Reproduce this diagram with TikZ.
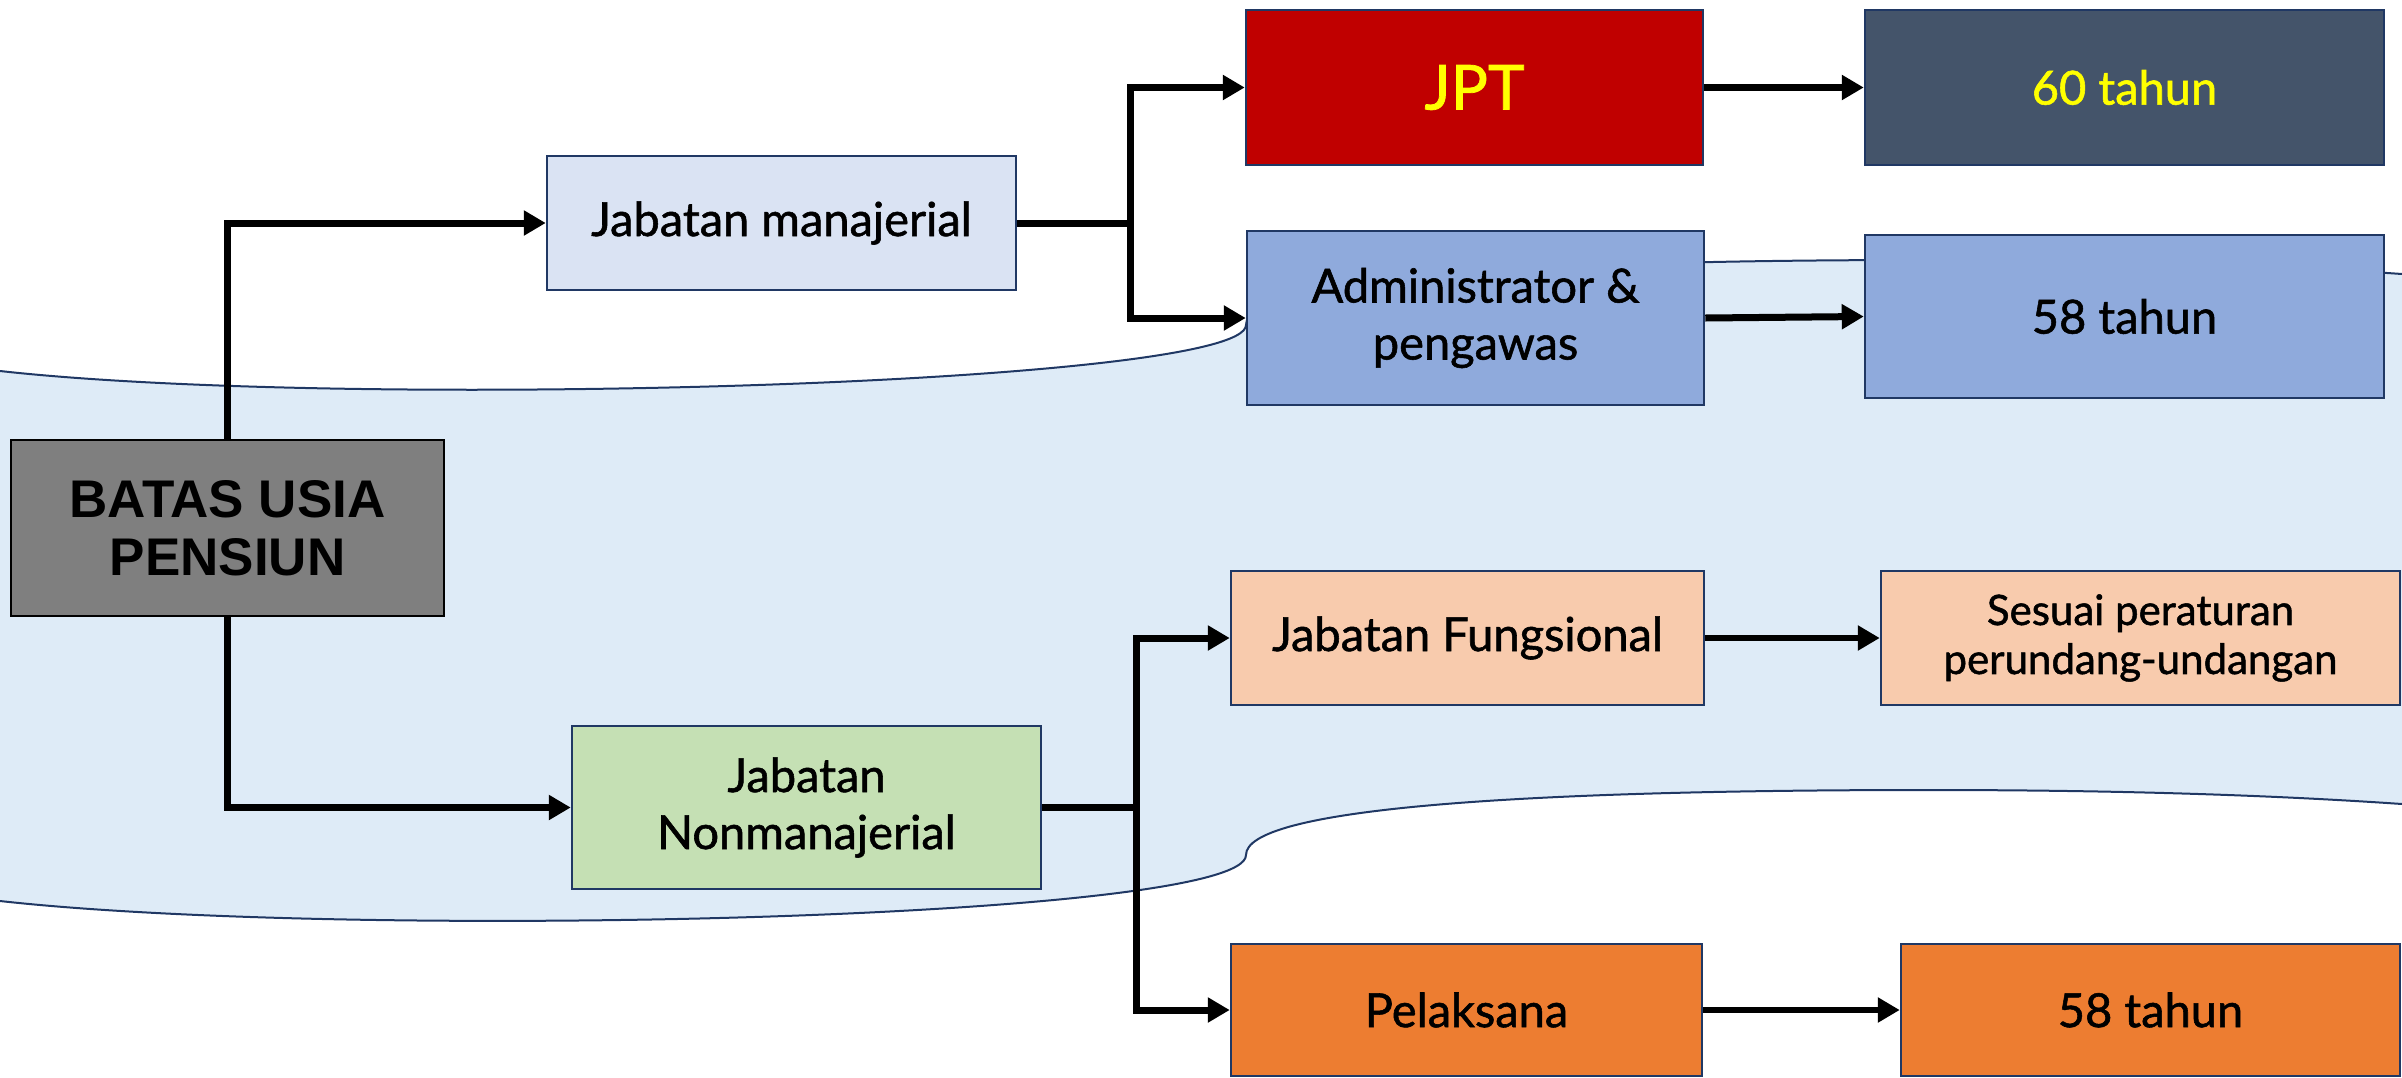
\documentclass[tikz,border=0pt]{standalone}
\usepackage{fontspec}
\setmainfont{Lato}[FakeBold=1.2]
\newfontfamily\arialf{Liberation Sans}
\usetikzlibrary{arrows.meta}
\definecolor{navy}{HTML}{203864}
\definecolor{wave}{HTML}{DEEBF7}
\definecolor{jmfill}{HTML}{DAE3F3}
\definecolor{jptfill}{HTML}{C00000}
\definecolor{slate}{HTML}{44546A}
\definecolor{admfill}{HTML}{8FAADC}
\definecolor{peach}{HTML}{F8CBAD}
\definecolor{orng}{HTML}{ED7D31}
\definecolor{green}{HTML}{C5E0B4}
\definecolor{grayb}{HTML}{7F7F7F}
\definecolor{yel}{HTML}{FFFF00}
\begin{document}
\begin{tikzpicture}[x=1pt,y=-1pt,
  box/.style={draw=navy, line width=2.5pt, inner sep=0pt, align=center,
    font=\fontsize{47}{57}\selectfont},
  conn/.style={line width=7pt, -{Triangle[length=22pt,width=24pt]}},
  stub/.style={line width=7pt}]
\useasboundingbox (0,0) rectangle (2402,1077);
\clip (0,0) rectangle (2402,1077);
% background wave band
\draw[navy, line width=2pt, fill=wave]
  (-100,367) -- (0,371) .. controls (350,410) and (1246,385) .. (1246,325)
  .. controls (1246,280) and (1500,260) .. (1928,260)
  .. controls (2150,260) and (2300,267) .. (2402,274) -- (2500,280)
  -- (2500,810) -- (2402,804)
  .. controls (2300,797) and (2150,790) .. (1928,790)
  .. controls (1500,790) and (1246,810) .. (1246,855)
  .. controls (1246,920) and (350,940) .. (0,901) -- (-100,897) -- cycle;
% nodes
\node[box, draw=black, fill=grayb, minimum width=433pt, minimum height=176pt,
  font=\arialf\bfseries\fontsize{53}{58}\selectfont] (batas) at (227.5,528) {BATAS USIA\\PENSIUN};
\node[box, fill=jmfill, minimum width=469pt, minimum height=134pt] (jm) at (781.5,223) {Jabatan manajerial};
\node[box, fill=jptfill, text=yel, minimum width=457pt, minimum height=155pt,
  font=\fontsize{62}{70}\selectfont] (jpt) at (1474.5,87.5) {JPT};
\node[box, fill=slate, text=yel, minimum width=519pt, minimum height=155pt] (t60) at (2124.5,87.5) {60 tahun};
\node[box, fill=admfill, minimum width=457pt, minimum height=174pt] (adm) at (1475.5,318) {Administrator \&\\pengawas};
\node[box, fill=admfill, minimum width=519pt, minimum height=163pt] (t58a) at (2124.5,316.5) {58 tahun};
\node[box, fill=green, minimum width=469pt, minimum height=163pt] (jn) at (806.5,807.5) {Jabatan\\Nonmanajerial};
\node[box, fill=peach, minimum width=473pt, minimum height=134pt] (jf) at (1467.5,638) {Jabatan Fungsional};
\node[box, fill=peach, minimum width=519pt, minimum height=134pt,
  font=\fontsize{42}{49}\selectfont] (ses) at (2140.5,638) {Sesuai peraturan\\perundang-undangan};
\node[box, fill=orng, minimum width=471pt, minimum height=132pt] (pel) at (1466.5,1010) {Pelaksana};
\node[box, fill=orng, minimum width=499pt, minimum height=132pt] (t58b) at (2150.5,1010) {58 tahun};
% connectors
\coordinate (jmb) at (1130,223);
\coordinate (jnb) at (1136,807.5);
\draw[conn] (batas.north) |- (jm.west);
\draw[conn] (batas.south) |- (jn.west);
\draw[stub] (jm.east) -- (jmb);
\draw[conn] (jmb) |- (jpt.west);
\draw[conn] (jmb) |- (adm.west);
\draw[stub] (jn.east) -- (jnb);
\draw[conn] (jnb) |- (jf.west);
\draw[conn] (jnb) |- (pel.west);
\draw[conn] (jpt.east) -- (t60.west);
\draw[conn] (adm.east) -- (t58a.west);
\draw[conn, line width=6pt] (jf.east) -- (ses.west);
\draw[conn, line width=6pt] (pel.east) -- (t58b.west);
\end{tikzpicture}
\end{document}
